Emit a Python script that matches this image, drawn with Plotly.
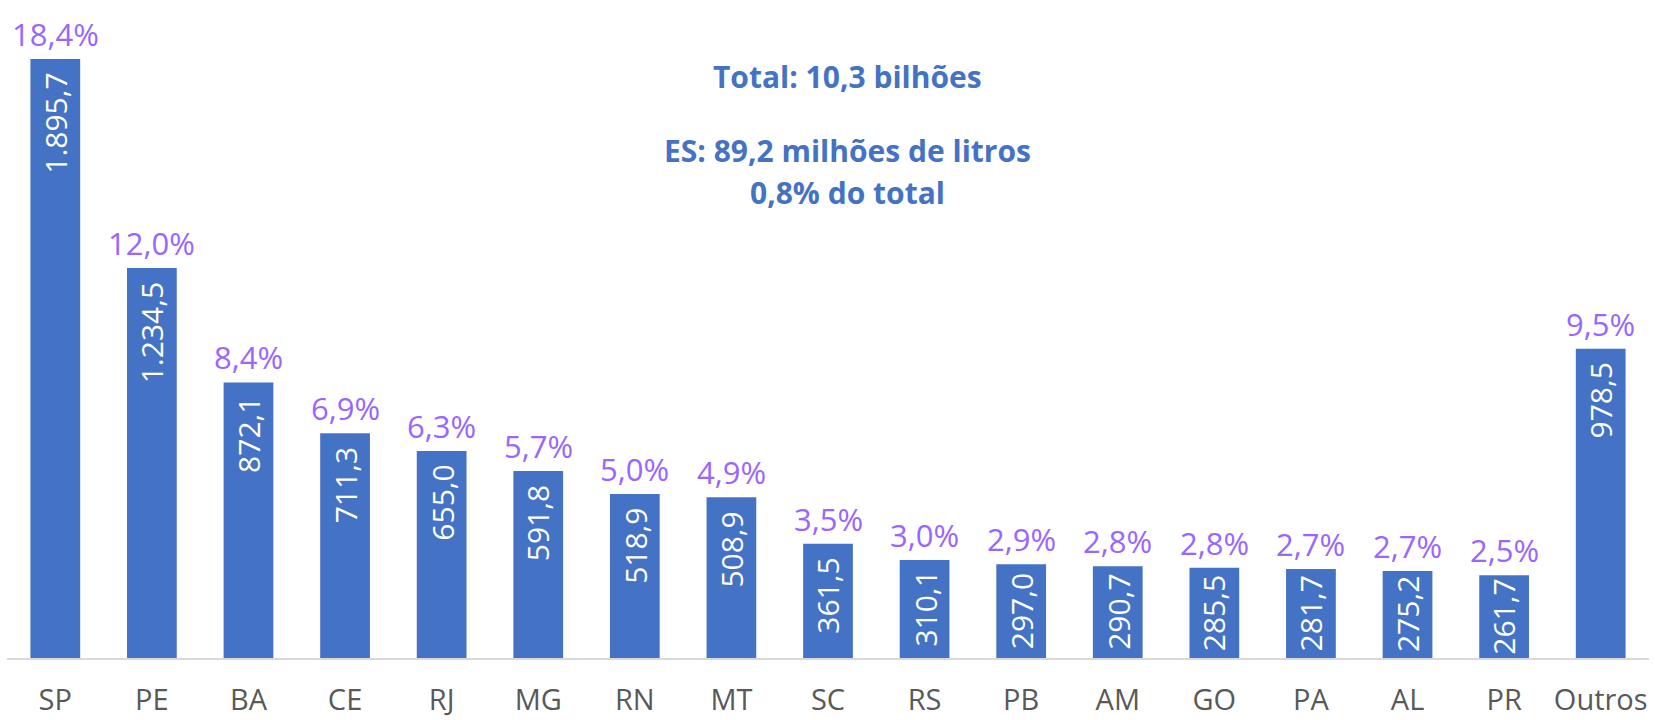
import plotly.graph_objects as go

categories = ["SP", "PE", "BA", "CE", "RJ", "MG", "RN", "MT", "SC", "RS",
              "PB", "AM", "GO", "PA", "AL", "PR", "Outros"]
values = [1895.7, 1234.5, 872.1, 711.3, 655.0, 591.8, 518.9, 508.9, 361.5,
          310.1, 297.0, 290.7, 285.5, 281.7, 275.2, 261.7, 978.5]
shares = ["18,4%", "12,0%", "8,4%", "6,9%", "6,3%", "5,7%", "5,0%", "4,9%",
          "3,5%", "3,0%", "2,9%", "2,8%", "2,8%", "2,7%", "2,7%", "2,5%", "9,5%"]
notes = ["<b>Total: 10,3 bilhões</b>",
         "<b>ES: 89,2 milhões de litros</b>",
         "<b>0,8% do total</b>"]

W, H = 1655, 720
ML, MR, MT, MB = 7, 6, 20, 62
YMAX = 2019
FONT = "Open Sans, Noto Sans, sans-serif"
BLUE = "#4472C4"
PURPLE = "#9966FF"


def br(v):
    s = f"{v:,.1f}"
    return s.replace(",", "X").replace(".", ",").replace("X", ".")


fig = go.Figure()
fig.add_trace(go.Bar(
    x=categories, y=values, marker=dict(color=BLUE, line=dict(width=0)),
    hoverinfo="x+y", showlegend=False,
))

plot_h = H - MT - MB
k = plot_h / YMAX  # px per unit
annotations = []
for c, v, s in zip(categories, values, shares):
    annotations.append(dict(
        x=c, y=v, xref="x", yref="y", text=s, showarrow=False,
        yanchor="bottom", yshift=2,
        font=dict(family=FONT, size=31, color=PURPLE),
    ))
    txt = br(v)
    ndig = sum(ch.isdigit() for ch in txt)
    L = ndig * 17 + (len(txt) - ndig) * 8
    h = v * k
    d = min(14 + L / 2, h / 2)
    annotations.append(dict(
        x=c, y=v - d / k, xref="x", yref="y", text=txt, showarrow=False,
        textangle=-90, xanchor="center", yanchor="middle",
        font=dict(family=FONT, size=30, color="white"),
    ))

for t, yp in zip(notes, [0.912, 0.795, 0.729]):
    annotations.append(dict(
        x=0.5116, y=yp, xref="paper", yref="paper", text=t, showarrow=False,
        xanchor="center", yanchor="middle",
        font=dict(family=FONT, size=30, color=BLUE),
    ))

fig.update_layout(
    width=W, height=H,
    margin=dict(l=ML, r=MR, t=MT, b=MB, pad=0, autoexpand=False),
    paper_bgcolor="white", plot_bgcolor="white",
    bargap=0.485,
    annotations=annotations,
    xaxis=dict(
        showline=True, linecolor="#D9D9D9", linewidth=2, automargin=False,
        ticks="", showgrid=False, zeroline=False, ticklabelstandoff=15,
        tickfont=dict(family=FONT, size=29, color="#595959"),
    ),
    yaxis=dict(range=[0, YMAX], visible=False, showgrid=False, zeroline=False,
               automargin=False),
)

fig.write_html("out.html", config={"displayModeBar": False},
               post_script="document.body.style.margin='0';")
